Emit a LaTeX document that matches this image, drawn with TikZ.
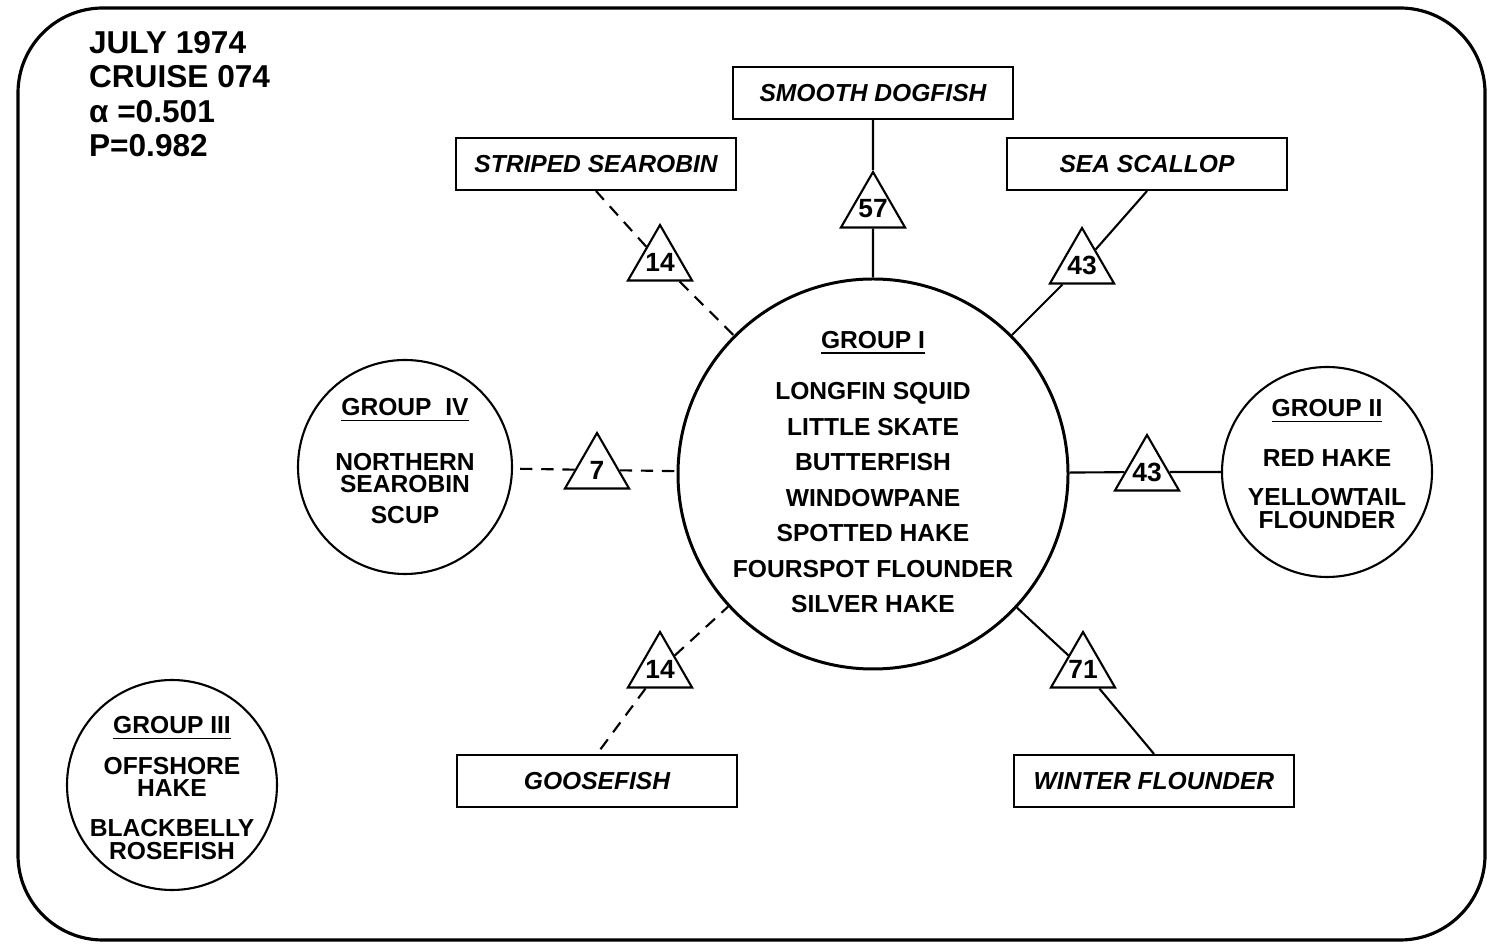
\documentclass[tikz,border=0pt]{standalone}
\usepackage{fontspec}
\setsansfont{Liberation Sans}
\usetikzlibrary{shapes.geometric}

\begin{document}
\begin{tikzpicture}[
            line width = 0.6pt, % line style
            font = \sffamily\bfseries\fontsize{7}{6.5}\selectfont
        ]

        \tikzstyle{species}=[
            draw = black,
            rectangle,
            minimum width = 2.8cm,
            minimum height = 0.52cm,
            font = \sffamily\bfseries\itshape\fontsize{7}{8}\selectfont
        ]
        \tikzstyle{score}=[
            draw = black,
            regular polygon,
            regular polygon sides = 3,
            minimum size = 0.74cm,
            inner sep = -1.4pt,
            font = \sffamily\bfseries\fontsize{7.5}{8}\selectfont
        ]
        \tikzstyle{group}=[draw = black, circle, inner sep = 0pt]
        \tikzstyle{members}=[align = center, inner sep = 0pt]
        \tikzstyle{weak}=[dash pattern = on 3.5pt off 2.5pt]

        \useasboundingbox (0,0) rectangle (14.87,9.47);
        \draw[line width = 0.9pt, rounded corners = 0.85cm] (0.18,0.07) rectangle (14.85,9.39);

        % cruise data
        \node[anchor = north west, align = left, inner sep = 0pt,
              font = \sffamily\bfseries\fontsize{9}{9.8}\selectfont] (info) at (0.88,9.17)
            {JULY 1974\\CRUISE 074\\α =0.501\\P=0.982};

        % groups
        \node[group, line width = 0.85pt, minimum size = 3.9cm] (g1) at (8.73,4.73) {};
        \node[members] (g1list) at (8.73,4.75)
            {\underline{GROUP I}\\[6.8pt]
             LONGFIN SQUID\\[3.6pt]LITTLE SKATE\\[3.6pt]BUTTERFISH\\[3.6pt]WINDOWPANE\\[3.6pt]
             SPOTTED HAKE\\[3.6pt]FOURSPOT FLOUNDER\\[3.6pt]SILVER HAKE};
        \node[group, minimum size = 2.14cm] (g4) at (4.05,4.80) {};
        \node[members] (g4list) at (4.05,4.86)
            {\underline{GROUP\ \ IV}\\[7.6pt]NORTHERN\\SEAROBIN\\[2.2pt]SCUP};
        \node[group, minimum size = 2.1cm] (g2) at (13.27,4.75) {};
        \node[members] (g2list) at (13.27,4.83)
            {\underline{GROUP II}\\[6.4pt]RED HAKE\\[4.8pt]YELLOWTAIL\\FLOUNDER};
        \node[group, minimum size = 2.1cm] (g3) at (1.72,1.62) {};
        \node[members] (g3list) at (1.72,1.59)
            {\underline{GROUP III}\\[3.6pt]OFFSHORE\\HAKE\\[4.8pt]BLACKBELLY\\ROSEFISH};

        % species
        \node[species] (dogfish) at (8.73,8.54) {SMOOTH DOGFISH};
        \node[species] (searobin) at (5.96,7.83) {STRIPED SEAROBIN};
        \node[species] (scallop) at (11.47,7.83) {SEA SCALLOP};
        \node[species] (goosefish) at (5.97,1.66) {GOOSEFISH};
        \node[species] (flounder) at (11.54,1.66) {WINTER FLOUNDER};

        % affinities
        \node[score] (s57) at (8.73,7.38) {57};
        \node[score] (s14a) at (6.60,6.85) {14};
        \node[score] (s43a) at (10.82,6.82) {43};
        \node[score] (s7) at (5.97,4.77) {7};
        \node[score] (s43b) at (11.47,4.75) {43};
        \node[score] (s14b) at (6.60,2.78) {14};
        \node[score] (s71) at (10.83,2.78) {71};

        \draw (s57) edge (dogfish) edge (g1);
        \draw[weak] (s14a) edge (searobin.south) edge (g1);
        \draw (s43a) edge (scallop.south) edge (g1);
        \draw[weak] (s7) edge (g4) edge (g1);
        \draw (s43b) edge (g1) edge (g2);
        \draw[weak] (s14b) edge (goosefish.north) edge (g1);
        \draw (s71) edge (flounder.north) edge (g1);
    \end{tikzpicture}
\end{document}
